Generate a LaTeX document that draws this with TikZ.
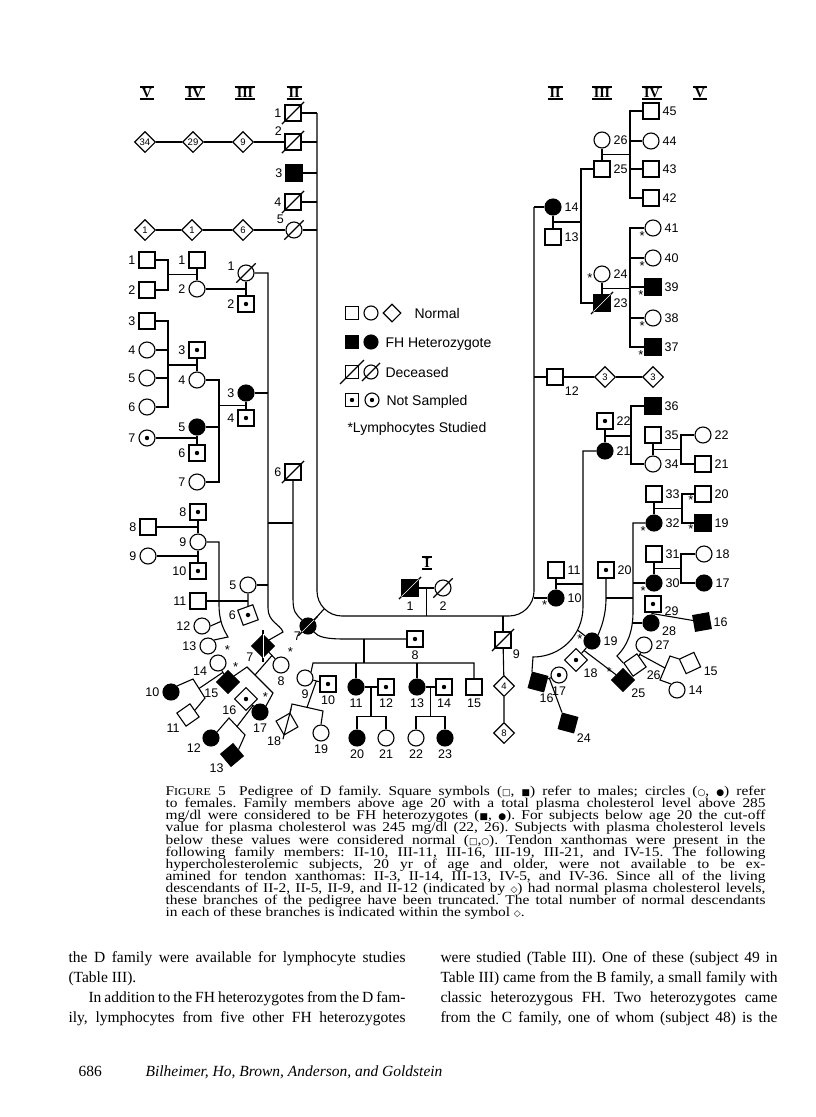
\documentclass[tikz,border=0pt]{standalone}
\usepackage{fontspec}
\setmainfont{Liberation Serif}
\setsansfont{Liberation Sans}
\newfontfamily\symfont{DejaVu Sans}
\newfontfamily\capfont[FakeStretch=1.15]{Liberation Serif}
\usetikzlibrary{calc,shapes.geometric}

% slash through a deceased subject (optional: overshoot past the corners)
\newcommand\deceased[2][0.15]{%
  \draw ($(#2.south west)!-#1!(#2.north east)$) -- ($(#2.north east)!-#1!(#2.south west)$);}
% same for a filled symbol, the slash shows white inside
\newcommand\deceasedf[2][0.15]{\deceased[#1]{#2}%
  \draw[white, line width=0.6pt] (#2.south west) -- (#2.north east);}
\newcommand\symb[1]{{\symfont\fontsize{9}{9}\selectfont #1}}
\newcommand\figsc{F{\fontsize{10.5}{10.5}\selectfont IGURE}}

\begin{document}
\frenchspacing
\begin{tikzpicture}[
  x=1pt, y=-1pt, line width=1.1pt,
  every node/.style={inner sep=0pt},
  label distance=2.5pt,
  every label/.style={lab},
  sq/.style={draw, rectangle, minimum size=16pt},
  ci/.style={draw, circle, minimum size=16pt},
  dia/.style={draw, diamond, minimum size=21pt,
              font=\sffamily\fontsize{9.5}{9.5}\selectfont},
  fh/.style={fill=black},
  ns/.style={path picture={\fill (path picture bounding box.center) circle (2.2pt);}},
  lab/.style={font=\sffamily\fontsize{12.5}{12.5}\selectfont},
  ast/.style={font=\sffamily\fontsize{13}{13}\selectfont, label distance=0.5pt, yshift=1.5pt},
  gen/.style={font=\bfseries\fontsize{14}{14}\selectfont, inner xsep=1.5pt, inner ysep=1pt},
  leg/.style={font=\sffamily\fontsize{14}{14}\selectfont, anchor=base west},
  capl/.style={font=\capfont\fontsize{13.4}{13.4}\selectfont, anchor=base west},
  bodyl/.style={font=\fontsize{15.5}{15.5}\selectfont, anchor=base west}
]
\fill[white] (0,0) rectangle (816,1117);
\useasboundingbox (0,0) rectangle (816,1117);

% generation numerals
\foreach \t/\x/\y [count=\k] in {V/147/93, IV/195/93, III/245/93, II/294/93,
    II/555/93, III/602/93, IV/652/93, V/700/93, I/427/563}{
  \node[gen] (g\k) at (\x,\y) {\t};
  \draw[line width=1.5pt] (g\k.north west) -- (g\k.north east)
                          (g\k.south west) -- (g\k.south east);
}

% legend
\node[sq, minimum size=13pt] (kSq) at (352,313) {};
\node[ci, minimum size=14pt] (kCi) at (371,313) {};
\node[draw, diamond, minimum size=18pt] (kDi) at (392,313) {};
\node[leg] (kT1) at (414,318) {Normal};
\node[sq, fh, minimum size=13pt] (kFsq) at (352,342) {};
\node[ci, fh, minimum size=14pt] (kFci) at (371,342) {};
\node[leg] (kT2) at (385,347) {FH Heterozygote};
\node[sq, minimum size=13pt] (kDsq) at (352,372) {};
\node[ci, minimum size=14pt] (kDci) at (371,372) {};
\node[leg] (kT3) at (385,377) {Deceased};
\node[sq, ns, minimum size=13pt] (kNsq) at (352,400) {};
\node[ci, ns, minimum size=14pt] (kNci) at (372,400) {};
\node[leg] (kT4) at (386,405) {Not Sampled};
\node[leg] (kT5) at (347,432) {*Lymphocytes Studied};
\deceased[0.35]{kDsq}
\deceased[0.35]{kDci}

% generation I
\node[sq, fh, label={[label distance=5pt]below:1}] (i1) at (410,588) {};
\node[ci, label={[label distance=5pt]below:2}] (i2) at (443,588) {};

% generation II, left
\node[sq, label=left:1] (ii1) at (293,113) {};
\node[sq, label=150:2] (ii2) at (293,142) {};
\node[sq, fh, label=left:3] (ii3) at (294,173) {};
\node[sq, label=left:4] (ii4) at (293,202) {};
\node[ci, label=150:5] (ii5) at (294,230) {};
\node[sq, label=left:6] (ii6) at (293,472) {};
\node[ci, fh, label={[label distance=0pt]220:7}] (ii7) at (308,626) {};
\node[sq, ns, label=below:8] (ii8) at (415,639) {};
\node[sq, label={[label distance=1pt]below right:9}] (ii9) at (503,640) {};

% truncated branches
\node[dia] (dA1) at (243,142) {9};
\node[dia] (dA2) at (193,142) {29};
\node[dia] (dA3) at (145,142) {34};
\node[dia] (dB1) at (243,230) {6};
\node[dia] (dB2) at (192,230) {1};
\node[dia] (dB3) at (145,230) {1};
\node[dia] (dC1) at (504,686) {4};
\node[dia] (dC2) at (504,733) {8};
\node[dia] (dD1) at (605,377) {3};
\node[dia] (dD2) at (653,377) {3};

% generation III, left and centre
\node[ci, label=170:1] (iii1) at (246,273) {};
\node[sq, ns, label=left:2] (iii2) at (246,304) {};
\node[ci, fh, label=left:3] (iii3) at (246,393) {};
\node[sq, ns, label=left:4] (iii4) at (246,418) {};
\node[ci, label=left:5] (iii5) at (248,585) {};
\node[sq, ns, rotate=20, label=160:6] (iii6) at (248,615) {};
\node[sq, fh, rotate=45, label=170:7] (iii7) at (263,646) {};
\node[ci, label=below:8, label={[ast]45:*}] (iii8) at (281,665) {};
\node[ci, label=below:9] (iii9) at (305,678) {};
\node[sq, ns, label=below:10] (iii10) at (328,684) {};
\node[ci, fh, label=below:11] (iii11) at (356,687) {};
\node[sq, ns, label=below:12] (iii12) at (386,687) {};
\node[ci, fh, label=below:13] (iii13) at (417,687) {};
\node[sq, ns, label=below:14] (iii14) at (444,687) {};
\node[sq, label=below:15] (iii15) at (474,687) {};

% generation IV, left and centre
\node[sq, label=left:1] (iv1) at (197,260) {};
\node[ci, label=left:2] (iv2) at (197,289) {};
\node[sq, ns, label=left:3] (iv3) at (197,350) {};
\node[ci, label=left:4] (iv4) at (197,380) {};
\node[ci, fh, label=left:5] (iv5) at (197,427) {};
\node[sq, ns, label=left:6] (iv6) at (197,453) {};
\node[ci, label=left:7] (iv7) at (197,482) {};
\node[sq, ns, label=left:8] (iv8) at (198,512) {};
\node[ci, label=left:9] (iv9) at (198,542) {};
\node[sq, ns, label=left:10] (iv10) at (198,571) {};
\node[sq, label=left:11] (iv11) at (198,601) {};
\node[ci, label=left:12] (iv12) at (202,626) {};
\node[ci, label=left:13] (iv13) at (208,646) {};
\node[ci, label=200:14, label={[ast]45:*}] (iv14) at (218,663) {};
\node[sq, fh, rotate=45, label=170:15, label={[ast]15:*}] (iv15) at (228,682) {};
\node[sq, ns, rotate=45, label=170:16] (iv16) at (246,699) {};
\node[ci, fh, label=below:17, label={[ast]75:*}] (iv17) at (260,712) {};
\node[sq, rotate=30, label=215:18] (iv18) at (287,724) {};
\node[ci, label=below:19] (iv19) at (321,733) {};
\node[ci, fh, label=below:20] (iv20) at (357,738) {};
\node[ci, label=below:21] (iv21) at (386,738) {};
\node[ci, label=below:22] (iv22) at (416,738) {};
\node[ci, fh, label=below:23] (iv23) at (445,738) {};

% generation V, left
\node[sq, label=left:1] (v1) at (147,260) {};
\node[sq, label=left:2] (v2) at (147,290) {};
\node[sq, label=left:3] (v3) at (147,321) {};
\node[ci, label=left:4] (v4) at (147,350) {};
\node[ci, label=left:5] (v5) at (147,378) {};
\node[ci, label=left:6] (v6) at (147,407) {};
\node[ci, ns, label=left:7] (v7) at (147,438) {};
\node[sq, label=left:8] (v8) at (148,527) {};
\node[ci, label=left:9] (v9) at (148,556) {};
\node[ci, fh, label=left:10] (v10) at (171,692) {};
\node[sq, rotate=35, label=190:11] (v11) at (188,715) {};
\node[ci, fh, label=210:12] (v12) at (211,738) {};
\node[sq, fh, rotate=40, label=185:13] (v13) at (232,755) {};

% generation II, right
\node[ci, fh, label=right:14] (ii14) at (553,207) {};
\node[sq, label=right:13] (ii13) at (553,237) {};
\node[sq, label={[label distance=1pt]below right:12}] (ii12) at (555,377) {};
\node[sq, label=right:11] (ii11) at (556,570) {};
\node[ci, fh, label=right:10, label={[ast]205:*}] (ii10) at (556,598) {};

% generation III, right
\node[ci, label=right:26] (iii26) at (602,140) {};
\node[sq, label=right:25] (iii25) at (602,169) {};
\node[ci, label=right:24, label={[ast]185:*}] (iii24) at (602,274) {};
\node[sq, fh, label=right:23] (iii23) at (602,303) {};
\node[sq, ns, label=right:22] (iii22) at (605,421) {};
\node[ci, fh, label=right:21] (iii21) at (605,451) {};
\node[sq, ns, label=right:20] (iii20) at (606,570) {};
\node[ci, fh, label=right:19, label={[ast]180:*}] (iii19) at (592,641) {};
\node[sq, ns, rotate=45, label=-95:18] (iii18) at (576,660) {};
\node[ci, ns, label=below:17] (iii17) at (559,675) {};
\node[sq, fh, rotate=-15, label=290:16] (iii16) at (538,682) {};

% generation IV, right
\node[sq, label=right:45] (iv45) at (651,111) {};
\node[ci, label=right:44] (iv44) at (651,141) {};
\node[sq, label=right:43] (iv43) at (651,169) {};
\node[sq, label=right:42] (iv42) at (651,198) {};
\node[ci, label=right:41, label={[ast]210:*}] (iv41) at (653,228) {};
\node[ci, label=right:40, label={[ast]210:*}] (iv40) at (653,258) {};
\node[sq, fh, label=right:39, label={[ast]205:*}] (iv39) at (653,287) {};
\node[ci, label=right:38, label={[ast]210:*}] (iv38) at (653,318) {};
\node[sq, fh, label=right:37, label={[ast]205:*}] (iv37) at (653,347) {};
\node[sq, fh, label=right:36] (iv36) at (653,406) {};
\node[sq, label=right:35] (iv35) at (653,435) {};
\node[ci, label=right:34] (iv34) at (653,464) {};
\node[sq, label=right:33] (iv33) at (654,494) {};
\node[ci, fh, label=right:32, label={[ast]210:*}] (iv32) at (654,523) {};
\node[sq, label=right:31] (iv31) at (654,554) {};
\node[ci, fh, label=right:30, label={[ast]210:*}] (iv30) at (654,583) {};
\node[sq, ns, label=-10:29] (iv29) at (653,604) {};
\node[ci, fh, label=-15:28] (iv28) at (651,623) {};
\node[ci, label=right:27] (iv27) at (644,645) {};
\node[sq, rotate=35, label=-60:26] (iv26) at (635,665) {};
\node[sq, fh, rotate=45, label=-90:25, label={[ast]125:*}] (iv25) at (623,680) {};
\node[sq, fh, rotate=-15, label=-35:24] (iv24) at (568,723) {};

% generation V, right
\node[ci, label=right:22] (v22) at (703,435) {};
\node[sq, label=right:21] (v21) at (703,464) {};
\node[sq, label=right:20, label={[ast]195:*}] (v20) at (703,494) {};
\node[sq, fh, label=right:19, label={[ast]195:*}] (v19) at (703,523) {};
\node[ci, label=right:18] (v18) at (704,554) {};
\node[ci, fh, label=right:17] (v17) at (704,583) {};
\node[sq, fh, rotate=10, label=-10:16] (v16) at (702,622) {};
\node[sq, rotate=25, label=-40:15] (v15) at (690,663) {};
\node[ci, label=right:14] (v14) at (677,690) {};

% deceased
\deceased{ii1} \deceased{ii2} \deceased{ii4} \deceased[0.3]{ii5} \deceased{ii6}
\deceased[0.3]{iii1} \deceasedf{i1} \deceased[0.3]{i2} \deceased{ii9}
\deceasedf[0.3]{ii7} \deceasedf{iii7} \deceased{iv18} \deceasedf{iii23}

% points on the sibship lines
\coordinate (cL) at (317,0);
\coordinate (cR) at (534,0);
\coordinate (cB) at (0,616);
\coordinate (k7) at (324,609);
\coordinate (j6) at (293,523);
\coordinate (s6) at (268,523);
\coordinate (s1) at (168,260);
\coordinate (s3) at (219,380);
\coordinate (s4) at (168,321);
\coordinate (s9) at (219,542);
\coordinate (t7) at (255,675);
\coordinate (t14) at (199,688.5);
\coordinate (t16) at (237,726.5);
\coordinate (t9) at (307,707.4);
\coordinate (j8) at (364,639);
\coordinate (h8) at (364,663);
\coordinate (s21) at (583,451);
\coordinate (j20) at (606,598);
\coordinate (s32) at (633,523);
\coordinate (s19) at (682,494);
\coordinate (s17) at (681,554);
\coordinate (t26) at (665,668);
\coordinate (s36) at (631,406);
\coordinate (s22) at (681,435);
\coordinate (s25) at (581,169);
\coordinate (s45) at (630,111);
\coordinate (s41) at (630,228);

% I-1 x I-2
\draw[rounded corners=25pt] (ii1.east -| cL) -- (cL |- cB) -- (cR |- cB) -- (ii14.west -| cR);
\foreach \n in {ii1,ii2,ii3,ii4,ii5} \draw (\n.east) -- (\n.east -| cL);
\foreach \n in {ii14,ii12,ii10} \draw (\n.west) -- (\n.west -| cR);
\draw (i1) -- coordinate[midway] (mI) (i2);
\draw (mI) -- (mI |- cB);
\draw (ii9.north) -- (ii9.north |- cB);
\draw (ii7.north east) -- (k7);
\draw (ii2) -- (dA1) -- (dA2) -- (dA3);
\draw (ii5) -- (dB1) -- (dB2) -- (dB3);
\draw (ii9) -- (dC1) -- (dC2);
\draw (ii12) -- (dD1) -- (dD2);

% II-6 x II-7
\draw (ii6.south) -- ++(0,118) .. controls +(0,14) and +(-6,-6) .. (ii7.north west);
\draw (j6) -- (s6);
\draw (iii1.east) -- (iii1.east -| s6) -- (268,608) .. controls (268,622) and (280,624) .. (283,632) -- (iii7.east);
\draw (iii3.east) -- (iii3.east -| s6);
\draw (iii5.east) -- (iii5.east -| s6);
\draw (iii1) -- (iii2);
\draw (iv2.east) -- (iv2.east -| iii1);
\draw (iv1) -- coordinate[midway] (m1) (iv2);
\draw (v1.east) -- (s1) |- (v2.east);
\draw (m1) -- (m1 -| s1);
\draw (iii3) -- coordinate[midway] (m3) (iii4);
\draw (iv4.east) -- (s3) |- (iv7.east);
\draw (iv5.east) -- (iv5.east -| s3);
\draw (m3) -- (m3 -| s3);
\draw (iv3) -- coordinate[midway] (m4) (iv4);
\draw (v3.east) -- (s4) |- (v6.east);
\draw (v4.east) -- (v4.east -| s4);
\draw (v5.east) -- (v5.east -| s4);
\draw (m4) -- (m4 -| s4);
\draw (iv5) -- (iv6);
\draw (v7.east) -- (v7.east -| iv5);
\draw (iv8) -- (iv9) -- (iv10);
\draw (v8.east) -- (v8.east -| iv8);
\draw (v9.east) -- (v9.east -| iv9);
\draw (iii5) -- (iii6);
\draw (iv11.east) -- (iv11.east -| iii5);
\draw (iv9.east) -- (s9) -- (219,604) .. controls (219,622) and (224,630) .. (228,637)
  coordinate[pos=0.4] (k12) -- (iv13.north east);
\draw (iv12.east) -- (k12);

% III-7 x III-8
\draw (iii7) -- coordinate[midway] (m7) (iii8);
\draw (m7) -- (t7);
\draw (iv15.east) -- (247,667) -- (273,693) -- (iv17.north east);
\draw (iv14) -- coordinate[midway] (m14) (iv15);
\draw (m14) -- (t14);
\draw (v10.north east) -- (193,679) -- (205,698) -- (v11.east);
\draw (iv16) -- coordinate[midway] (m16) (iv17);
\draw (m16) -- (t16);
\draw (v12.north east) -- (229,718) -- (245,735) -- (v13.east);

% II-7 x II-8
\draw (ii7.south east) .. controls (318,637) and (326,639) .. (345,639) -- (ii8.west);
\draw (j8) -- (h8);
\draw (iii9.north east) -- (313,663) -- (iii15.north |- h8) -- (iii15.north);
\foreach \n in {iii11,iii13} \draw (\n.north |- h8) -- (\n.north);
\draw (iii11) -- coordinate[midway] (m11) (iii12);
\draw (m11) -- ++(0,30);
\draw (iv20.north) -- ++(0,-13) -| (iv21.north);
\draw (iii13) -- coordinate[midway] (m13) (iii14);
\draw (m13) -- ++(0,30);
\draw (iv22.north) -- ++(0,-13) -| (iv23.north);
\draw (iii9) -- coordinate[midway] (m9) (iii10);
\draw (m9) -- (t9);
\draw (iv18.north east) -- (292,704) -- (323,711) -- (iv19.north);

% II-14 x II-13
\draw (ii14) -- coordinate[midway] (m14r) (ii13);
\draw (iii25.west) -- (s25) |- (iii23.west);
\draw (m14r) -- (m14r -| s25);
\draw (iii26) -- coordinate[midway] (m25) (iii25);
\draw (iv45.west) -- (s45) |- (iv42.west);
\foreach \n in {iv44,iv43} \draw (\n.west) -- (\n.west -| s45);
\draw (m25) -- (m25 -| s45);
\draw (iii24) -- coordinate[midway] (m23) (iii23);
\draw (iv41.west) -- (s41) |- (iv37.west);
\foreach \n in {iv40,iv39,iv38} \draw (\n.west) -- (\n.west -| s41);
\draw (m23) -- (m23 -| s41);

% II-11 x II-10
\draw (ii11) -- coordinate[midway] (m10) (ii10);
\draw (iii21.west) -- (s21) -- (583,607) .. controls (583,635) and (561,657) .. (533,657)
  coordinate[pos=0.3] (k19) -- (iii16.north west);
\draw (m10) -- (m10 -| s21);
\draw (k19) -- (iii19);
\draw (iii22) -- coordinate[midway] (m21) (iii21);
\draw (iv36.west) -- (s36) |- (iv34.west);
\draw (m21) -- (m21 -| s36);
\draw (iv35) -- coordinate[midway] (m34) (iv34);
\draw (v22.west) -- (s22) |- (v21.west);
\draw (m34) -- (m34 -| s22);
\draw (iii16) -- coordinate[midway] (m16r) (iii17);
\draw (m16r) -- (iv24.north west);
\draw (iii19) -- coordinate[midway] (m18) (iii18);
\draw (m18) -- (iv25);

% III-20 x III-19
\draw (iii20.south) -- (j20) .. controls (606,616) and (601,628) .. (iii19.north east);
\draw (j20) -- (j20 -| s32);
\draw (iv32.west) -- (s32) -- (633,612) .. controls (633,632) and (627,646) .. (617,656) -- (iv26.north west);
\draw (iv30.west) -- (iv30.west -| s32);
\draw (iv28.west) -- (iv28.west -| s32);
\draw (iv33) -- coordinate[midway] (m32) (iv32);
\draw (v20.west) -- (s19) |- (v19.west);
\draw (m32) -- (m32 -| s19);
\draw (iv31) -- coordinate[midway] (m30) (iv30);
\draw (v18.west) -- (s17) |- (v17.west);
\draw (m30) -- (m30 -| s17);
\draw (iv29) -- coordinate[midway] (m28) (iv28);
\draw (m28) -- (v16);
\draw (iv27) -- coordinate[midway] (m26) (iv26);
\draw (m26) -- (t26);
\draw (v15.north west) -- (670,656) -- (660,680) -- (v14.north west);

% caption
\node[capl] (cap1) at (165,795) {\makebox[600pt][s]{\figsc~5\quad Pedigree of D family. Square symbols (\symb{□}, \symb{■}) refer to males; circles (\symb{○}, \symb{●}) refer}};
\node[capl] (cap2) at (165,807) {\makebox[600pt][s]{to females. Family members above age 20 with a total plasma cholesterol level above 285}};
\node[capl] (cap3) at (165,819) {\makebox[600pt][s]{mg/dl were considered to be FH heterozygotes (\symb{■}, \symb{●}). For subjects below age 20 the cut-off}};
\node[capl] (cap4) at (165,831) {\makebox[600pt][s]{value for plasma cholesterol was 245 mg/dl (22, 26). Subjects with plasma cholesterol levels}};
\node[capl] (cap5) at (165,844) {\makebox[600pt][s]{below these values were considered normal (\symb{□},\symb{○}). Tendon xanthomas were present in the}};
\node[capl] (cap6) at (165,856) {\makebox[600pt][s]{following family members: II-10, III-11, III-16, III-19, III-21, and IV-15. The following}};
\node[capl] (cap7) at (165,868) {\makebox[600pt][s]{hypercholesterolemic subjects, 20 yr of age and older, were not available to be ex-}};
\node[capl] (cap8) at (165,880) {\makebox[600pt][s]{amined for tendon xanthomas: II-3, II-14, III-13, IV-5, and IV-36. Since all of the living}};
\node[capl] (cap9) at (165,892) {\makebox[600pt][s]{descendants of II-2, II-5, II-9, and II-12 (indicated by \symb{◇}) had normal plasma cholesterol levels,}};
\node[capl] (cap10) at (165,904) {\makebox[600pt][s]{these branches of the pedigree have been truncated. The total number of normal descendants}};
\node[capl] (cap11) at (165,916) {in each of these branches is indicated within the symbol \symb{◇}.};

% body text
\node[bodyl] (bd1) at (68,962) {\makebox[337pt][s]{the D family were available for lymphocyte studies}};
\node[bodyl] (bd2) at (68,982) {(Table III).};
\node[bodyl] (bd3) at (68,1002) {\makebox[337pt][s]{\hspace*{20pt}In addition to the FH heterozygotes from the D fam-}};
\node[bodyl] (bd4) at (68,1022) {\makebox[337pt][s]{ily, lymphocytes from five other FH heterozygotes}};
\node[bodyl] (bd5) at (440,962) {\makebox[337pt][s]{were studied (Table III). One of these (subject 49 in}};
\node[bodyl] (bd6) at (440,982) {\makebox[337pt][s]{Table III) came from the B family, a small family with}};
\node[bodyl] (bd7) at (440,1002) {\makebox[337pt][s]{classic heterozygous FH. Two heterozygotes came}};
\node[bodyl] (bd8) at (440,1022) {\makebox[337pt][s]{from the C family, one of whom (subject 48) is the}};
\node[bodyl] (ft1) at (78,1076) {686};
\node[bodyl, font=\itshape\fontsize{15.5}{15.5}\selectfont] (ft2) at (145,1076) {Bilheimer, Ho, Brown, Anderson, and Goldstein};
\end{tikzpicture}
\end{document}
